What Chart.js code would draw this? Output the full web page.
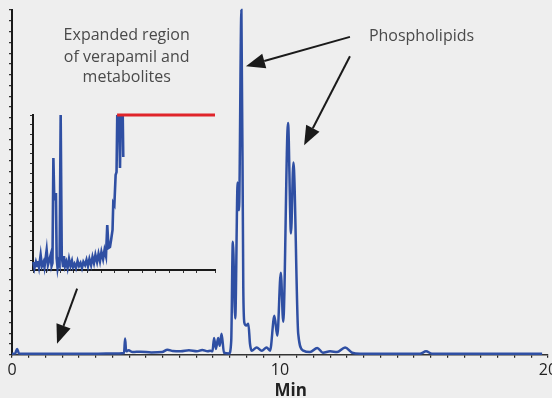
<!DOCTYPE html>
<html><head><meta charset="utf-8">
<script src="https://cdn.jsdelivr.net/npm/chart.js@4/dist/chart.umd.min.js"></script>
<style>
html,body{margin:0;padding:0;background:#eeeeee;}
#wrap{position:relative;width:552px;height:398px;overflow:hidden;background:#eeeeee;}
#main{position:absolute;left:0;top:0;}
#inset{position:absolute;left:14px;top:105px;}
</style></head><body>
<div id="wrap">
<canvas id="main" width="552" height="398"></canvas>
<canvas id="inset" width="210" height="175"></canvas>
</div>
<script>
// ---- main chromatogram (time in min, relative intensity %) ----
const times  = [0,0.12,0.19,0.26,0.5,1.0,2.0,3.0,4.0,4.18,4.22,4.26,4.35,4.5,4.8,5.2,5.6,5.8,6.0,6.3,6.6,6.9,7.1,7.3,7.4,7.48,7.54,7.61,7.69,7.75,7.82,7.91,8.1,8.18,8.24,8.33,8.42,8.47,8.56,8.63,8.67,8.74,8.82,8.88,8.94,9.13,9.32,9.50,9.63,9.79,9.90,10.03,10.12,10.30,10.41,10.50,10.68,10.87,11.12,11.39,11.6,11.87,12.13,12.43,12.69,12.99,15.22,15.45,15.67,19.78];
const signal = [0.3,0.4,1.7,0.4,0.3,0.3,0.3,0.3,0.4,0.5,4.7,1.0,1.3,0.8,0.9,0.7,0.8,1.5,1.1,1.0,1.3,1.0,1.4,1.0,1.2,1.0,4.9,1.7,4.9,2.6,6.1,0.6,0.4,4.0,32.8,10.5,50.0,41.9,100,19.5,9.3,8.5,9.0,3.2,1.2,2.1,1.2,2.1,1.2,11.3,5.5,23.8,9.6,67.2,35.2,55.8,6.1,1.2,0.8,2.0,0.6,1.0,0.8,2.1,0.6,0.3,0.3,1.0,0.3,0.3];
const xTickValues = [0,10,20];
const xTickLabels = ['0','10','20'];
const xTitle = 'Min';

// ---- inset: expanded region of verapamil and metabolites (relative units) ----
const insetX = [0.2,0.8,1.6,2.2,2.7,3.3,4.2,4.9,5.8,6.3,7.5,8.2,8.8,9.7,10.2,10.7,11.2,11.7,12.1,12.6,13.0,13.5,14.0,14.6,15.2,15.8,16.5,17.0,17.6,18.3,19.0,19.8,20.6,21.4,22.0,22.8,23.6,24.5,25.3,26.1,26.9,27.7,28.6,29.4,30.2,31.0,31.9,32.7,33.5,34.3,35.2,36.0,36.8,37.6,38.5,39.3,40.1,40.8,41.5,42.3,42.9,43.7,44.1,44.7,45.4,45.9,46.3,46.9,47.3,47.8,48.2,48.7,49.3,49.6];
const insetY = [5.2,1.3,5.2,2.6,5.8,1.9,9.7,2.6,5.2,1.9,12.9,3.2,5.8,9.7,2.6,4.5,72.3,45,48,49.7,7.7,1.3,5.2,3.2,100,8.4,2.6,9.0,2.6,5.2,1.3,7.1,2.6,5.8,1.9,3.9,1.3,5.8,2.6,4.5,1.3,5.2,3.2,6.5,2.6,7.1,3.2,8.4,4.5,9.7,5.2,10.3,5.8,11.6,7.1,12.9,9.0,29,14.2,14.8,19.4,25.8,43.2,41.9,61.3,63.2,100,93.5,100,65.8,100,88.4,100,72.9];
const clipX = [46.2,100];
const clipY = [100,100];

const labels = {
  insetNote: ['Expanded region','of verapamil and','metabolites'],
  phospho: 'Phospholipids'
};

const BLUE = '#2f4fa3';
const FONT = "'Open Sans', 'Noto Sans', sans-serif";

function pts(xs, ys){ return xs.map((x,i)=>({x:x, y:ys[i]})); }

function drawArrow(ctx, x1, y1, x2, y2, headLen, headHalf){
  const a = Math.atan2(y2-y1, x2-x1);
  const bx = x2 - headLen*Math.cos(a), by = y2 - headLen*Math.sin(a);
  ctx.beginPath(); ctx.moveTo(x1,y1); ctx.lineTo(bx,by); ctx.stroke();
  ctx.beginPath();
  ctx.moveTo(x2,y2);
  ctx.lineTo(bx + headHalf*Math.sin(a), by - headHalf*Math.cos(a));
  ctx.lineTo(bx - headHalf*Math.sin(a), by + headHalf*Math.cos(a));
  ctx.closePath(); ctx.fill();
}

// annotation anchors in data units (min, %)
const arrowSpecs = [
  {from:[12.61,92.2], to:[8.73,83.7]},
  {from:[12.61,86.6], to:[10.90,60.8]},
  {from:[2.43,19.2], to:[1.68,3.2]}
];

const annot = {
  id:'annot',
  afterDraw(chart){
    const {ctx, scales:{x,y}} = chart;
    ctx.save();
    ctx.strokeStyle = '#1a1a1a'; ctx.fillStyle = '#1a1a1a'; ctx.lineWidth = 2;
    arrowSpecs.forEach(s=>{
      drawArrow(ctx, x.getPixelForValue(s.from[0]), y.getPixelForValue(s.from[1]),
                x.getPixelForValue(s.to[0]), y.getPixelForValue(s.to[1]), 19, 7.5);
    });
    ctx.fillStyle = '#4a4a4a';
    ctx.font = '16px ' + FONT;
    ctx.textAlign = 'center'; ctx.textBaseline = 'alphabetic';
    const cx = x.getPixelForValue(4.28);
    [91.3, 85.0, 79.2].forEach((v,i)=> ctx.fillText(labels.insetNote[i], cx, y.getPixelForValue(v)));
    ctx.fillText(labels.phospho, x.getPixelForValue(15.28), y.getPixelForValue(91.0));
    ctx.fillStyle = '#222';
    ctx.font = 'bold 17px ' + FONT;
    ctx.fillText(xTitle, x.getPixelForValue(10.4), 396);
    ctx.restore();
  }
};

new Chart(document.getElementById('main'), {
  type:'line',
  data:{datasets:[{data:pts(times, signal), borderColor:BLUE, borderWidth:2.5, pointRadius:0,
    cubicInterpolationMode:'monotone', fill:false, clip:false}]},
  options:{
    responsive:false, animation:false, events:[],
    layout:{padding:{left:9, right:4, top:10, bottom:15}},
    plugins:{legend:{display:false}, tooltip:{enabled:false}},
    scales:{
      x:{type:'linear', min:0, max:20,
        border:{display:true, color:'#333', width:1.5},
        grid:{drawOnChartArea:false, drawTicks:true, tickLength:3, color:'#222', lineWidth:1.2},
        ticks:{stepSize:0.625, autoSkip:false, maxRotation:0, minRotation:0, padding:3, color:'#222',
          font:{family:FONT, size:16},
          callback:(v)=>{ const i = xTickValues.findIndex(t=>Math.abs(t-v)<1e-6); return i>=0 ? xTickLabels[i] : ''; }},
        afterFit:(s)=>{ s.paddingLeft = 0; s.paddingRight = 0; }
      },
      y:{type:'linear', min:0, max:100,
        border:{display:true, color:'#1a1a1a', width:2},
        grid:{drawOnChartArea:false, drawTicks:true, tickLength:3, color:'#333', lineWidth:1.2},
        ticks:{display:false, stepSize:3.125}
      }
    }
  },
  plugins:[annot]
});

new Chart(document.getElementById('inset'), {
  type:'line',
  data:{datasets:[
    {data:pts(clipX, clipY), borderColor:'#e0242a', borderWidth:3, pointRadius:0, tension:0, order:0, clip:false},
    {data:pts(insetX, insetY), borderColor:BLUE, borderWidth:2.6, pointRadius:0, tension:0, order:1, clip:false}
  ]},
  options:{
    responsive:false, animation:false, events:[],
    layout:{padding:{left:16, right:9, top:10, bottom:7}},
    plugins:{legend:{display:false}, tooltip:{enabled:false}},
    scales:{
      x:{type:'linear', min:0, max:100,
        border:{display:true, color:'#1a1a1a', width:2},
        grid:{drawOnChartArea:false, drawTicks:true, tickLength:3, color:'#333', lineWidth:1},
        ticks:{display:false, stepSize:7.5, autoSkip:false}},
      y:{type:'linear', min:0, max:100,
        border:{display:true, color:'#1a1a1a', width:2},
        grid:{drawOnChartArea:false, drawTicks:true, tickLength:3, color:'#333', lineWidth:1},
        ticks:{display:false, stepSize:6.25}}
    }
  }
});
</script>
</body></html>
